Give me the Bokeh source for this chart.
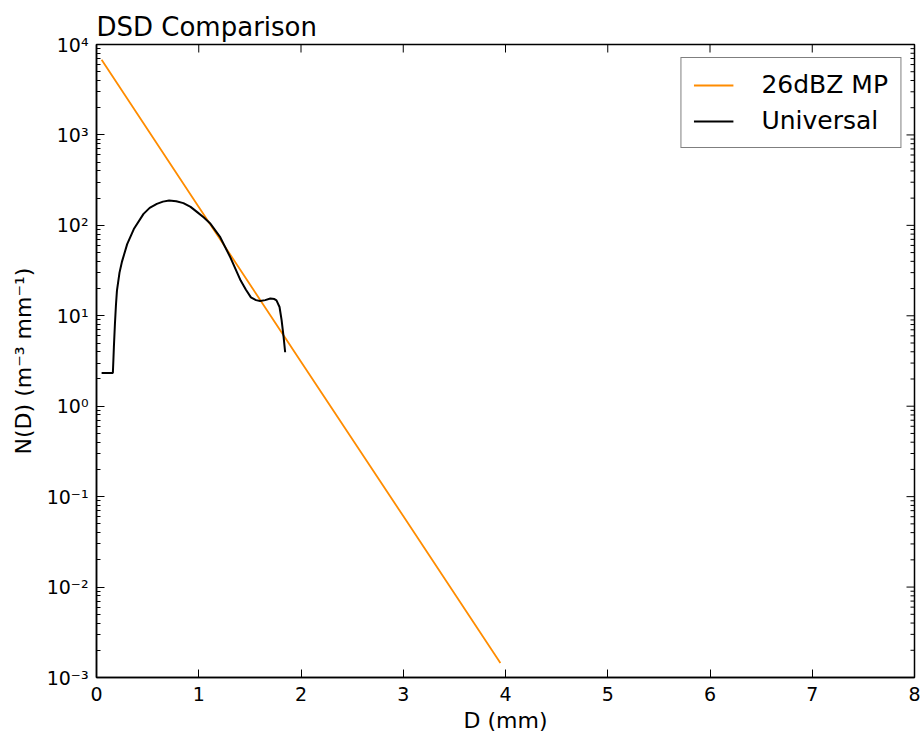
import math
from bokeh.plotting import figure
from bokeh.models import (Range1d, FixedTicker, LogTicker,
                          CustomJSTickFormatter, Legend, LegendItem)
from bokeh.embed import file_html
from bokeh.resources import INLINE

# Marshall-Palmer spectrum for 26 dBZ (straight line on a log axis)
D_mp = [0.05, 1.0, 2.0, 3.0, 3.95]
N_mp = [6800.0, 160.0, 3.1, 0.061, 0.00145]

# Universal drop size distribution
D_univ = [0.05, 0.16, 0.165, 0.17, 0.18, 0.19, 0.20, 0.225, 0.25, 0.30, 0.365,
          0.46, 0.52, 0.59, 0.65, 0.71, 0.78, 0.85, 0.92, 0.985, 1.05, 1.115,
          1.21, 1.31, 1.41, 1.46, 1.51, 1.56, 1.60, 1.65, 1.70, 1.74, 1.76,
          1.79, 1.81, 1.83, 1.845]
N_univ = [2.33, 2.33, 3.2, 4.5, 8.0, 13.0, 19.0, 30.0, 40.0, 62.0, 91.0,
          134.0, 156.0, 173.0, 183.0, 188.0, 185.0, 176.0, 160.0, 140.0, 122.0, 104.0,
          74.0, 44.0, 24.5, 19.5, 16.0, 14.9, 14.6, 14.9, 15.5, 15.3, 14.8,
          12.5, 9.0, 5.8, 3.95]

x_ticks = [0, 1, 2, 3, 4, 5, 6, 7, 8]
y_decades = [-3, -2, -1, 0, 1, 2, 3, 4]

X_MIN, X_MAX = 0, 8
Y_MIN, Y_MAX = 1e-3, 1e4

FONT = "DejaVu Sans"

p = figure(width=922, height=736, y_axis_type="log",
           x_range=Range1d(X_MIN, X_MAX), y_range=Range1d(Y_MIN, Y_MAX),
           output_backend="svg", toolbar_location=None,
           min_border_left=96, min_border_right=8,
           min_border_top=44, min_border_bottom=59)

p.title.text = "DSD Comparison"
p.title.text_font = FONT
p.title.text_font_size = "26px"
p.title.text_font_style = "normal"
p.title.text_color = "black"
p.title.align = "left"
p.title.standoff = 6

p.grid.visible = False
p.outline_line_color = "black"
p.outline_line_width = 1.5
p.background_fill_color = "white"
p.border_fill_color = "white"

sup_js = """
const m = {'-':'\u207b','0':'\u2070','1':'\u00b9','2':'\u00b2','3':'\u00b3',
           '4':'\u2074','5':'\u2075','6':'\u2076','7':'\u2077','8':'\u2078','9':'\u2079'};
const e = Math.round(Math.log10(tick)).toString();
let s = '';
for (const c of e) { s += m[c]; }
return '10' + s;
"""

# bottom axis
xa = p.xaxis[0]
xa.ticker = FixedTicker(ticks=x_ticks)
xa.axis_label = "D (mm)"
# left axis
ya = p.yaxis[0]
ya.ticker = LogTicker(num_minor_ticks=10)
ya.formatter = CustomJSTickFormatter(code=sup_js)
ya.axis_label = "N(D) (m\u207b\u00b3 mm\u207b\u00b9)"

for ax in (xa, ya):
    ax.axis_line_width = 1.5
    ax.major_tick_in = 8
    ax.major_tick_out = 0
    ax.minor_tick_in = 4
    ax.minor_tick_out = 0
    ax.major_tick_line_width = 1
    ax.minor_tick_line_width = 1
    ax.major_label_text_font = FONT
    ax.major_label_text_font_size = "19px"
    ax.major_label_text_color = "black"
    ax.axis_label_text_font = FONT
    ax.axis_label_text_font_size = "22px"
    ax.axis_label_text_font_style = "normal"
    ax.axis_label_text_color = "black"
xa.minor_tick_in = 0
xa.major_label_standoff = 9
xa.axis_label_standoff = 4
ya.major_label_standoff = 8
ya.axis_label_standoff = 8

# mirrored inward ticks along the top and right edges of the frame
y_major = [10.0 ** k for k in y_decades]
y_minor = [m * 10.0 ** k for k in y_decades[:-1] for m in range(2, 10)]
p.ray(x=[X_MAX] * len(y_major), y=y_major, length=8, length_units="screen",
      angle=math.pi, line_color="black", line_width=1)
p.ray(x=[X_MAX] * len(y_minor), y=y_minor, length=4, length_units="screen",
      angle=math.pi, line_color="black", line_width=1)
p.ray(x=x_ticks, y=[Y_MAX] * len(x_ticks), length=8, length_units="screen",
      angle=-math.pi / 2, line_color="black", line_width=1)

r_mp = p.line(D_mp, N_mp, line_color="#ff8c00", line_width=1.8)
r_un = p.line(D_univ, N_univ, line_color="black", line_width=2)

legend = Legend(items=[LegendItem(label="26dBZ MP", renderers=[r_mp]),
                       LegendItem(label="Universal", renderers=[r_un])],
                location="top_right")
legend.label_text_font = FONT
legend.label_text_font_size = "25px"
legend.label_text_color = "black"
legend.glyph_width = 40
legend.glyph_height = 28
legend.label_standoff = 28
legend.label_height = 29
legend.padding = 12
legend.spacing = 7
legend.margin = 13
legend.border_line_color = "black"
legend.border_line_width = 1.5
legend.background_fill_alpha = 1.0
p.add_layout(legend)

open("out.html", "w").write(file_html(p, INLINE))
